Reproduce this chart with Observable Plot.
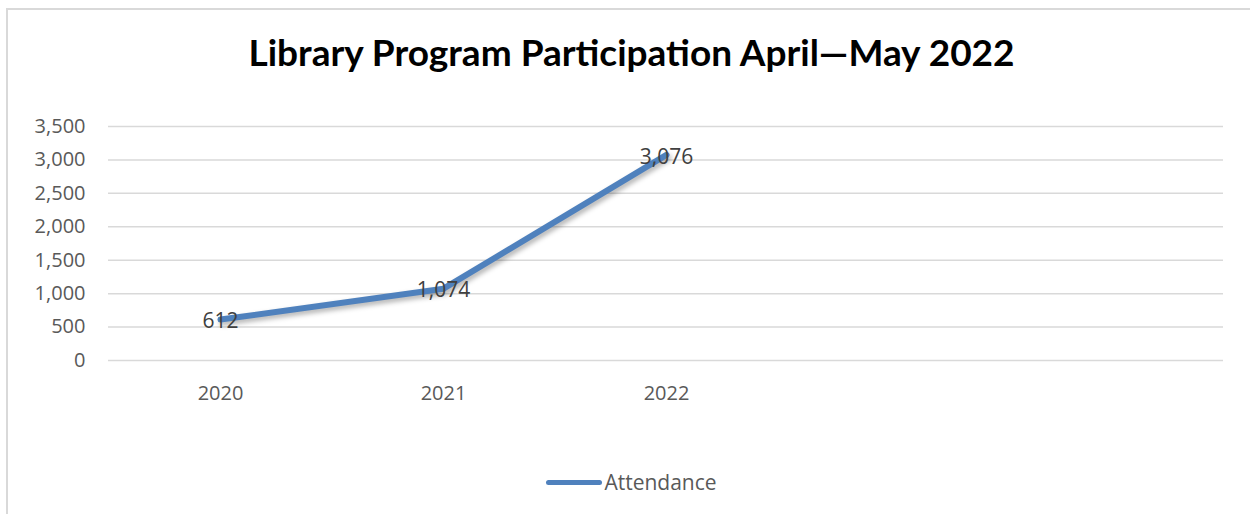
<!DOCTYPE html>
<html>
<head>
<meta charset="utf-8">
<script src="https://cdn.jsdelivr.net/npm/d3@7"></script>
<script src="https://cdn.jsdelivr.net/npm/@observablehq/plot@0.6"></script>
<style>
  html, body { margin: 0; padding: 0; background: #fff; overflow: hidden; }
  #frame { position: absolute; left: 6px; top: 8px; width: 1400px; height: 600px;
           border-top: 2px solid #d9d9d9; border-left: 2px solid #d9d9d9; }
  #page { position: absolute; left: 0; top: 0; width: 1250px; }
  #title { height: 100px; text-align: center; font-family: Lato, sans-serif; font-weight: 700;
           font-size: 37px; color: #000; line-height: 104px; padding-left: 13px; box-sizing: border-box; }
  #legend { position: absolute; top: 468px; left: 0; width: 1250px; display: flex; justify-content: center;
            align-items: center; font-family: "Open Sans", sans-serif; font-size: 21px; color: #595959; padding-left: 13px; box-sizing: border-box; }
  #legend .sw { width: 56px; height: 5px; background: #4f81bd; border-radius: 3px; margin-right: 2px; }
</style>
</head>
<body>
<div id="frame"></div>
<div id="page">
  <div id="title">Library Program Participation April—May 2022</div>
  <div id="chart"></div>
  <div id="legend"><span class="sw"></span><span>Attendance</span></div>
</div>
<script>
const categories = ["2020", "2021", "2022"];
const attendance = [612, 1074, 3076];
const xTickLabels = ["2020", "2021", "2022", "", ""];
const yTicks = [0, 500, 1000, 1500, 2000, 2500, 3000, 3500];
const seriesName = "Attendance";

const data = categories.map((c, i) => ({idx: i, label: c, value: attendance[i]}));
const xDomain = xTickLabels.map((_, i) => i);

const plot = Plot.plot({
  width: 1250,
  height: 320,
  marginLeft: 108,
  marginRight: 27,
  marginTop: 26,
  marginBottom: 60,
  style: {fontFamily: "'Open Sans', sans-serif", fontSize: "20px", color: "#595959", background: "transparent"},
  x: {type: "point", domain: xDomain, padding: 0.5, label: null},
  y: {domain: [0, 3500], label: null},
  marks: [
    Plot.ruleY(yTicks, {stroke: "#d9d9d9", strokeWidth: 1.5}),
    Plot.axisY({ticks: yTicks, tickSize: 0, tickPadding: 23, tickFormat: d3.format(","), fill: "#595959", label: null}),
    Plot.axisX({ticks: xDomain, tickSize: 0, tickPadding: 25, tickFormat: i => xTickLabels[i], fill: "#595959", label: null}),
    Plot.line(data, {x: "idx", y: "value", stroke: "#000", strokeOpacity: 0.3, strokeWidth: 6, dx: 2, dy: 3,
                     strokeLinecap: "round", strokeLinejoin: "round", className: "shadow"}),
    Plot.line(data, {x: "idx", y: "value", stroke: "#4f81bd", strokeWidth: 6, strokeLinecap: "round", strokeLinejoin: "round"}),
    Plot.text(data, {x: "idx", y: "value", text: d => d3.format(",")(d.value), fill: "#404040",
                     fontSize: 21, dy: 2})
  ]
});
document.getElementById("chart").appendChild(plot);
const svg = d3.select(plot);
svg.insert("defs", ":first-child").html('<filter id="blur" x="-10%" y="-10%" width="120%" height="120%"><feGaussianBlur stdDeviation="2.5"/></filter>');
svg.selectAll(".shadow").attr("filter", "url(#blur)");
</script>
</body>
</html>
